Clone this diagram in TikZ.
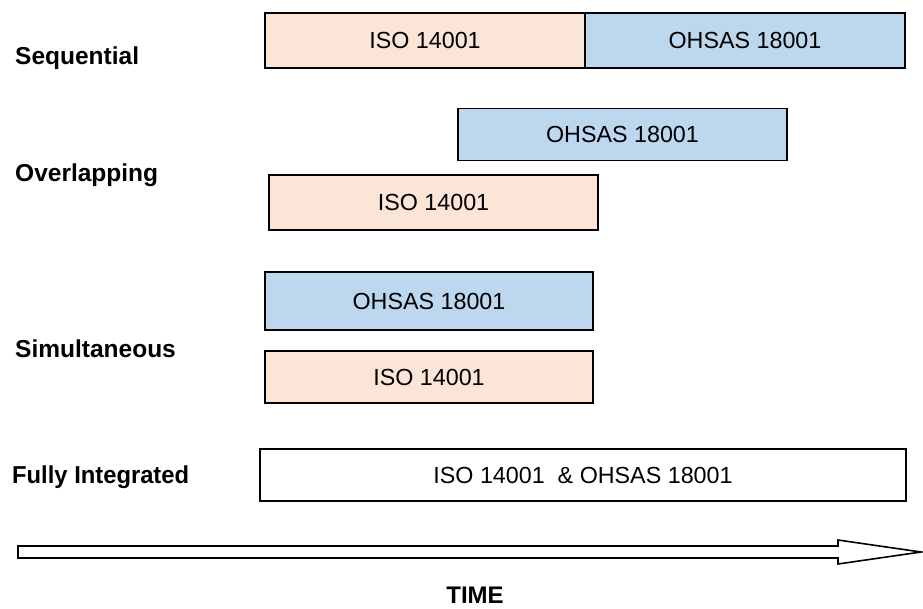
\documentclass[tikz,border=0pt]{standalone}
\usepackage{fontspec}
\usepackage{graphicx}
\setmainfont{Liberation Sans}
\definecolor{peach}{HTML}{FBE5D6}
\definecolor{paleblue}{HTML}{BDD7EE}
\begin{document}
\begin{tikzpicture}[x=1pt,y=-1pt,
  bar/.style={draw=black,line width=1.6pt,inner sep=0pt,font=\fontsize{23.3}{27}\selectfont},
  isobar/.style={bar,fill=peach},
  ohsasbar/.style={bar,fill=paleblue},
  rowlabel/.style={anchor=base west,inner sep=0pt,font=\fontsize{24.5}{28}\selectfont\bfseries}]
\useasboundingbox (0,0) rectangle (923,608);

% Sequential
\node[isobar,minimum width=320pt,minimum height=55pt] (seqiso) at (425,40.5) {ISO 14001};
\node[ohsasbar,minimum width=320pt,minimum height=55pt] (seqohs) at (745,40.5) {OHSAS 18001};
\node[rowlabel] (lseq) at (15,64.3) {Sequential};

% Overlapping
\node[ohsasbar,minimum width=329pt,minimum height=52pt] (ovohs) at (622.5,134.5) {OHSAS 18001};
\node[isobar,minimum width=329pt,minimum height=55pt] (oviso) at (433.5,202.5) {ISO 14001};
\node[rowlabel] (lov) at (15,181.7) {Overlapping};

% Simultaneous
\node[ohsasbar,minimum width=328pt,minimum height=58pt] (siohs) at (429,301) {OHSAS 18001};
\node[isobar,minimum width=328pt,minimum height=52pt] (siiso) at (429,377) {ISO 14001};
\node[rowlabel] (lsi) at (15,357.7) {Simultaneous};

% Fully integrated
\node[bar,fill=white,minimum width=646pt,minimum height=52pt] (full) at (583,475) {ISO 14001\ \ \& OHSAS 18001};
\node[rowlabel] (lfull) at (12,483.3) {\scalebox{0.97}[1]{Fully Integrated}};

% Time arrow
\draw[line width=1.6pt,fill=white,line join=miter]
  (18,546) -- (838,546) -- (838,540) -- (921,552) -- (838,564) -- (838,558) -- (18,558) -- cycle;
\node[anchor=base,inner sep=0pt,font=\fontsize{24}{28}\selectfont\bfseries] (time) at (475,603) {TIME};
\end{tikzpicture}
\end{document}
